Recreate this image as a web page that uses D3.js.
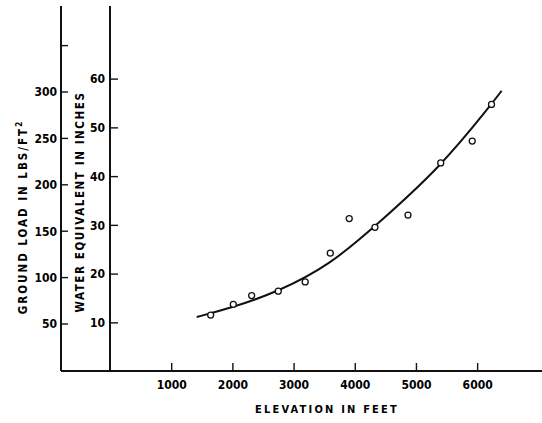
<!DOCTYPE html>
<html>
<head>
<meta charset="utf-8">
<script src="https://cdn.jsdelivr.net/npm/d3@7"></script>
<style>
  body { margin: 0; background: #fff; }
  text { font-family: "DejaVu Sans Condensed", "DejaVu Sans", sans-serif; font-weight: bold; fill: #000; }
</style>
</head>
<body>
<svg></svg>
<script>
let width = 542, height = 423;

// observed points (elevation ft, water equivalent in)
var elevation = [1645, 2015, 2315, 2750, 3190, 3600, 3910, 4330, 4870, 5405, 5920, 6235]
var water = [11.6, 13.8, 15.6, 16.5, 18.4, 24.3, 31.4, 29.6, 32.1, 42.8, 47.3, 54.8]

// fitted curve
var curveElev = [1417, 2015, 2750, 3595, 4330, 5392, 6237, 6400]
var curveWater = [11.2, 13.2, 16.4, 21.9, 29.8, 41.8, 54.9, 57.6]

var elevTicks = [1000, 2000, 3000, 4000, 5000, 6000]
var waterTicks = [10, 20, 30, 40, 50, 60]
var loadTicks = [50, 100, 150, 200, 250, 300, 350]

let svg = d3.select("svg")
    .attr("width", width)
    .attr("height", height)

var x = d3.scaleLinear().domain([0, 7060]).range([110, 542])
var yWater = d3.scaleLinear().domain([0, 75]).range([371.6, 6])
var yLoad = d3.scaleLinear().domain([0, 392.7]).range([370.4, 6])

let loadX = 61, baseY = 371

// x axis, ticks pointing up
let xAxis = svg.append("g")
    .attr("transform", "translate(0," + baseY + ")")
    .call(d3.axisBottom(x).tickValues(elevTicks).tickFormat(d3.format("d")).tickSize(-8).tickPadding(9))
xAxis.select(".domain").remove()
xAxis.selectAll("line").attr("stroke", "#111").attr("stroke-width", 1.4)
xAxis.selectAll("text").style("font-size", "12px")

svg.append("line")
    .attr("x1", loadX).attr("x2", width)
    .attr("y1", baseY).attr("y2", baseY)
    .attr("stroke", "#111").attr("stroke-width", 2)

// water equivalent axis
let wAxis = svg.append("g")
    .attr("transform", "translate(" + x(0) + ",0)")
    .call(d3.axisLeft(yWater).tickValues(waterTicks).tickSize(0).tickPadding(5))
wAxis.select(".domain").remove()
wAxis.selectAll("text").style("font-size", "12px")
waterTicks.forEach(t => {
    svg.append("line")
        .attr("x1", x(0)).attr("x2", x(0) + 8)
        .attr("y1", yWater(t)).attr("y2", yWater(t))
        .attr("stroke", "#111").attr("stroke-width", 1.4)
})
svg.append("line")
    .attr("x1", x(0)).attr("x2", x(0))
    .attr("y1", 6).attr("y2", baseY)
    .attr("stroke", "#111").attr("stroke-width", 2)

// ground load axis
let lAxis = svg.append("g")
    .attr("transform", "translate(" + loadX + ",0)")
    .call(d3.axisLeft(yLoad).tickValues(loadTicks).tickSize(0).tickPadding(4)
        .tickFormat(d => d == 350 ? "" : d))
lAxis.select(".domain").remove()
lAxis.selectAll("text").style("font-size", "12px")
loadTicks.forEach(t => {
    svg.append("line")
        .attr("x1", loadX).attr("x2", loadX + 7)
        .attr("y1", yLoad(t)).attr("y2", yLoad(t))
        .attr("stroke", "#111").attr("stroke-width", 1.4)
})
svg.append("line")
    .attr("x1", loadX).attr("x2", loadX)
    .attr("y1", 6).attr("y2", baseY)
    .attr("stroke", "#111").attr("stroke-width", 2)

// titles
svg.append("text")
    .attr("x", 327).attr("y", 413)
    .attr("text-anchor", "middle")
    .style("font-size", "11px")
    .style("letter-spacing", "2.2px")
    .text("ELEVATION IN FEET")

let gl = svg.append("text")
    .attr("transform", "translate(27,217) rotate(-90)")
    .attr("text-anchor", "middle")
    .style("font-size", "11.5px")
    .style("letter-spacing", "2px")
gl.append("tspan").text("GROUND LOAD IN LBS/FT")
gl.append("tspan").attr("dy", -5).style("font-size", "8px").text("2")

svg.append("text")
    .attr("transform", "translate(84,202) rotate(-90)")
    .attr("text-anchor", "middle")
    .style("font-size", "11.5px")
    .style("letter-spacing", "1.6px")
    .text("WATER EQUIVALENT IN INCHES")

// fitted curve
let line = d3.line()
    .x((d, i) => x(curveElev[i]))
    .y(d => yWater(d))
    .curve(d3.curveBasis)

svg.append("path")
    .attr("d", line(curveWater))
    .attr("fill", "none")
    .attr("stroke", "#111")
    .attr("stroke-width", 2)

// observations
svg.append("g")
    .selectAll("circle")
    .data(water)
    .enter()
    .append("circle")
    .attr("cx", (d, i) => x(elevation[i]))
    .attr("cy", d => yWater(d))
    .attr("r", 3)
    .attr("fill", "#fff")
    .attr("stroke", "#111")
    .attr("stroke-width", 1.3)
</script>
</body>
</html>
